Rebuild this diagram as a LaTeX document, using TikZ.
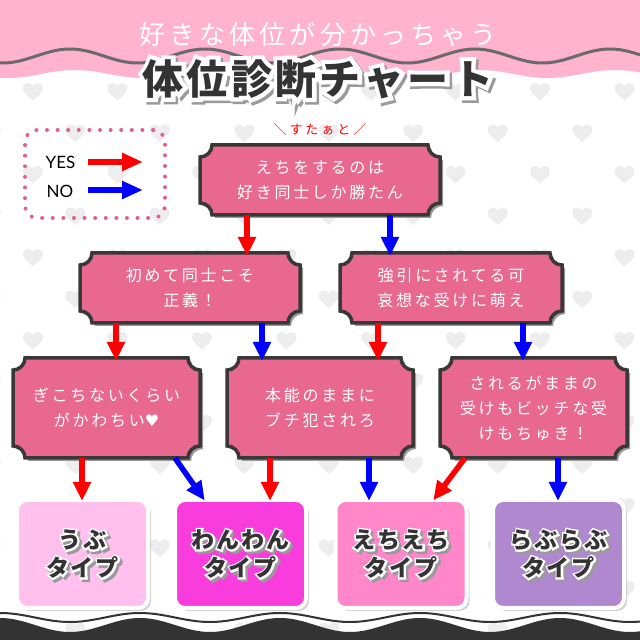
\documentclass[tikz,border=0pt]{standalone}
\usepackage{fontspec}
\setmainfont{Lato}
\newfontfamily\jp{Noto Sans CJK JP}
\newfontfamily\dv{DejaVu Sans}
\usetikzlibrary{calc,arrows.meta,shadows}
\definecolor{topink}{HTML}{FFB3CD}
\definecolor{waveg}{HTML}{6A6A6A}
\definecolor{heartc}{HTML}{EDEDED}
\definecolor{boxc}{HTML}{E8688F}
\definecolor{borderc}{HTML}{383838}
\definecolor{inkc}{HTML}{333333}
\definecolor{shadc}{HTML}{9A9A9A}
\definecolor{legpink}{HTML}{E0608E}
\definecolor{ubuc}{HTML}{FFC0EE}
\definecolor{wanc}{HTML}{F93CDC}
\definecolor{echc}{HTML}{FF86C8}
\definecolor{lovc}{HTML}{B088D0}
\definecolor{yesc}{HTML}{FF0000}
\definecolor{noc}{HTML}{0000FF}
\newcommand\notchbox[2]{%
 \path[#2] ($(#1.north west)+(12pt,0)$) -- ($(#1.north east)+(-12pt,0)$)
   arc[start angle=180,end angle=270,radius=12pt] -- ($(#1.south east)+(0,12pt)$)
   arc[start angle=90,end angle=180,radius=12pt] -- ($(#1.south west)+(12pt,0)$)
   arc[start angle=0,end angle=90,radius=12pt] -- ($(#1.north west)+(0,-12pt)$)
   arc[start angle=270,end angle=360,radius=12pt] -- cycle;}
\newcommand\drawnotch[1]{%
 \notchbox{#1}{fill=shadc, transform canvas={shift={(3pt,-3pt)}}}%
 \notchbox{#1}{fill=boxc, draw=borderc, line width=3.5pt}}
% #1 name, #2 position, #3 emboldening of the outline, #4 font, #5 text
\newcommand\halo[5]{%
 \node[text=shadc,align=center,font={#4\addfontfeatures{FakeBold=#3}}] at ($(#2)+(2.5,-2.5)$) {#5};
 \node[text=white,align=center,font={#4\addfontfeatures{FakeBold=#3}}] at (#2) {#5};
 \node[text=inkc,align=center,font={#4}] (#1) at (#2) {#5};}
\begin{document}
\begin{tikzpicture}[x=1pt,y=1pt,
 yesarrow/.style={draw=yesc, line width=5.5pt, -{Triangle[length=19pt,width=17pt]}, shorten >=-3pt},
 noarrow/.style={draw=noc, line width=5.5pt, -{Triangle[length=19pt,width=17pt]}, shorten >=-3pt},
 shapebox/.style={rectangle, inner sep=0pt, outer sep=0pt},
 boxtext/.style={text=white, align=center, font={\jp\addfontfeatures{LetterSpace=17}\fontsize{16}{25}\selectfont}},
 typebox/.style={rectangle, rounded corners=10pt, draw=white, line width=4pt, minimum width=131pt, minimum height=108pt,
   drop shadow={shadow xshift=3pt, shadow yshift=-3pt, opacity=0.35}},
 heartpic/.pic={\fill[heartc] (0,-8.5) .. controls (-4,-4.5) and (-10,-1) .. (-10,3.5)
   .. controls (-10,7.5) and (-7,9) .. (-5,9) .. controls (-3,9) and (-1,8) .. (0,6)
   .. controls (1,8) and (3,9) .. (5,9) .. controls (7,9) and (10,7.5) .. (10,3.5)
   .. controls (10,-1) and (4,-4.5) .. (0,-8.5) -- cycle;},
 legtext/.style={text=black, font={\fontsize{17}{20}\selectfont}}
]
\useasboundingbox (0,0) rectangle (640,640);
\fill[white] (0,0) rectangle (640,640);
% hearts
\foreach \k in {-1,...,13}{
  \pgfmathsetmacro\off{mod(\k+2,2)*42.25}
  \foreach \m in {-1,...,7}{
    \pic at ({33+84.5*\m+\off},{548-41.5*\k}) {heartpic};
  }
}
% top band
\fill[topink] (0,640) -- (640,640) -- plot[domain=640:0,samples=160] (\x,{566+4*cos((\x-75)*2.6667)}) -- cycle;
\draw[waveg, line width=3pt] plot[domain=0:640,samples=160] (\x,{584+7*cos((\x-70)*2.6667)});
% bottom band
\fill[inkc] (0,0) -- plot[domain=0:640,samples=160] (\x,{15+7*cos((\x-140)*2.5714)}) -- (640,0) -- cycle;
\draw[inkc, line width=2pt] plot[domain=0:640,samples=160] (\x,{22.5+4.5*cos((\x-140)*2.5714)});
% titles
\node[text=white, font={\jp\addfontfeatures{LetterSpace=16}\fontsize{26}{30}\selectfont}] (sub) at (318,605) {好きな体位が分かっちゃう};
\halo{title}{318,561}{20}{\jp\bfseries\addfontfeatures{LetterSpace=8}\fontsize{41}{44}\selectfont}{体位診断チャート}
% legend
\node[rectangle, rounded corners=12pt, draw=legpink, line width=4pt, dash pattern=on 0pt off 10.6pt, line cap=round,
  minimum width=140pt, minimum height=88pt] (leg) at (95,466) {};
\node[legtext] (yes) at (60.5,478) {YES};
\node[legtext] (no) at (60,449) {NO};
\coordinate (ys) at (88,478); \coordinate (ye) at (143,478);
\coordinate (ns) at (88,450); \coordinate (ne) at (143,450);
\draw[draw=yesc, line width=5.5pt, -{Triangle[length=21pt,width=17pt]}] (ys) -- (ye);
\draw[draw=noc, line width=5.5pt, -{Triangle[length=21pt,width=17pt]}] (ns) -- (ne);
% start label
\node[text=yesc, font={\jp\addfontfeatures{LetterSpace=23}\fontsize{13}{16}\selectfont}] (go) at (320,510) {＼すたぁと／};
% question boxes
\node[shapebox, minimum width=240pt, minimum height=70pt] (S) at (320,460) {};
\node[shapebox, minimum width=220pt, minimum height=70pt] (L1) at (190,352) {};
\node[shapebox, minimum width=222pt, minimum height=70pt] (R1) at (451,352) {};
\node[shapebox, minimum width=187pt, minimum height=100pt] (A) at (106.5,232) {};
\node[shapebox, minimum width=186pt, minimum height=100pt] (B) at (320,232) {};
\node[shapebox, minimum width=187pt, minimum height=100pt] (C) at (533.5,232) {};
\drawnotch{S}\drawnotch{L1}\drawnotch{R1}\drawnotch{A}\drawnotch{B}\drawnotch{C}
\node[boxtext] (S-t) at (S) {えちをするのは\\好き同士しか勝たん};
\node[boxtext] (L1-t) at (L1) {初めて同士こそ\\正義！};
\node[boxtext] (R1-t) at (R1) {強引にされてる可\\哀想な受けに萌え};
\node[boxtext] (A-t) at (A) {ぎこちないくらい\\がかわちい{\dv ♥}};
\node[boxtext] (B-t) at (B) {本能のままに\\ブチ犯されろ};
\node[boxtext] (C-t) at (C) {されるがままの\\受けもビッチな受\\けもちゅき！};
% result boxes
\node[typebox, fill=ubuc] (U) at (82.5,86) {};
\node[typebox, fill=wanc] (W) at (240.5,86) {};
\node[typebox, fill=echc] (E) at (401,86) {};
\node[typebox, fill=lovc] (LV) at (558.5,86) {};
\halo{U-t}{U}{16}{\jp\bfseries\addfontfeatures{LetterSpace=8}\fontsize{23}{28}\selectfont}{うぶ\\タイプ}
\halo{W-t}{W}{16}{\jp\bfseries\addfontfeatures{LetterSpace=8}\fontsize{23}{28}\selectfont}{わんわん\\タイプ}
\halo{E-t}{E}{16}{\jp\bfseries\addfontfeatures{LetterSpace=8}\fontsize{23}{28}\selectfont}{えちえち\\タイプ}
\halo{LV-t}{LV}{16}{\jp\bfseries\addfontfeatures{LetterSpace=8}\fontsize{23}{28}\selectfont}{らぶらぶ\\タイプ}
% connectors
\draw[yesarrow] ([xshift=-73pt]S.south) -- ([xshift=57pt]L1.north);
\draw[noarrow] ([xshift=70pt]S.south) -- ([xshift=-61pt]R1.north);
\draw[yesarrow] ([xshift=-74pt]L1.south) -- ([xshift=9.5pt]A.north);
\draw[noarrow] ([xshift=72pt]L1.south) -- ([xshift=-58pt]B.north);
\draw[yesarrow] ([xshift=-73pt]R1.south) -- ([xshift=58pt]B.north);
\draw[noarrow] ([xshift=72pt]R1.south) -- ([xshift=-10.5pt]C.north);
\draw[yesarrow] ([xshift=-24.5pt]A.south) -- ([xshift=-0.5pt]U.north);
\draw[noarrow] ([xshift=68.5pt]A.south) -- ([xshift=-37.5pt]W.north);
\draw[yesarrow] ([xshift=-50pt]B.south) -- ([xshift=29.5pt]W.north);
\draw[noarrow] ([xshift=49pt]B.south) -- ([xshift=-32pt]E.north);
\draw[yesarrow] ([xshift=-68.5pt]C.south) -- ([xshift=34pt]E.north);
\draw[noarrow] ([xshift=24.5pt]C.south) -- ([xshift=-0.5pt]LV.north);
\end{tikzpicture}
\end{document}
